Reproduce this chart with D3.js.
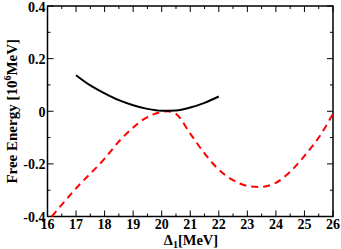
<!DOCTYPE html>
<html>
<head>
<meta charset="utf-8">
<script src="https://cdn.jsdelivr.net/npm/d3@7"></script>
<style>
  body { margin: 0; background: #fff; }
  text { font-family: "Liberation Serif", "Times New Roman", serif; font-weight: bold; }
</style>
</head>
<body>
<svg id="chart" width="341" height="249"></svg>
<script>
const xTicks = [16, 17, 18, 19, 20, 21, 22, 23, 24, 25, 26];
const yTicks = [-0.4, -0.2, 0, 0.2, 0.4];

// black solid curve
const solidX = [17, 17.5, 18, 18.5, 19, 19.5, 20, 20.5, 21, 21.5, 22];
const solidY = [0.137, 0.098, 0.068, 0.042, 0.023, 0.009, 0.002, 0.003, 0.014, 0.032, 0.056];

// red dashed curve
const dashX = [16.15, 17, 18, 18.5, 19, 19.5, 20, 20.2, 20.5, 21, 21.5, 22, 22.5, 23, 23.4, 24, 24.5, 25, 25.5, 26];
const dashY = [-0.4, -0.293, -0.18, -0.115, -0.062, -0.022, -0.003, 0, -0.01, -0.085, -0.16, -0.222, -0.262, -0.284, -0.288, -0.272, -0.23, -0.17, -0.1, -0.01];

const m = { left: 47.5, right: 333, top: 6, bottom: 216.5 };
const svg = d3.select('#chart');

const x = d3.scaleLinear().domain([16, 26]).range([m.left, m.right]);
const y = d3.scaleLinear().domain([-0.4, 0.4]).range([m.bottom, m.top]);

const xMinor = d3.range(16, 26.01, 0.5);
const yMinor = d3.range(-0.4, 0.401, 0.1);

// ticks pointing inward on all four sides
const g = svg.append('g').attr('stroke', '#000').attr('stroke-width', 1);
xMinor.forEach(v => {
  const len = Math.abs(v - Math.round(v)) < 1e-6 ? 6 : 3;
  g.append('line').attr('x1', x(v)).attr('x2', x(v)).attr('y1', m.bottom).attr('y2', m.bottom - len);
  g.append('line').attr('x1', x(v)).attr('x2', x(v)).attr('y1', m.top).attr('y2', m.top + len);
});
yMinor.forEach(v => {
  const major = Math.abs(v * 5 - Math.round(v * 5)) < 1e-6;
  const len = major ? 6 : 3;
  g.append('line').attr('x1', m.left).attr('x2', m.left + len).attr('y1', y(v)).attr('y2', y(v));
  g.append('line').attr('x1', m.right).attr('x2', m.right - len).attr('y1', y(v)).attr('y2', y(v));
});

svg.append('rect')
  .attr('x', m.left).attr('y', m.top)
  .attr('width', m.right - m.left).attr('height', m.bottom - m.top)
  .attr('fill', 'none').attr('stroke', '#000').attr('stroke-width', 1.5);

svg.selectAll('.xl').data(xTicks).enter().append('text')
  .attr('x', d => x(d)).attr('y', 229)
  .attr('text-anchor', 'middle').attr('font-size', 14)
  .text(d => d);

svg.selectAll('.yl').data(yTicks).enter().append('text')
  .attr('x', 45.5).attr('y', d => y(d) + 5.5)
  .attr('text-anchor', 'end').attr('font-size', 14)
  .text(d => d === 0 ? '0' : d);

const line = d3.line().x(d => x(d[0])).y(d => y(d[1])).curve(d3.curveMonotoneX);

svg.append('path')
  .datum(dashX.map((v, i) => [v, dashY[i]]))
  .attr('d', line)
  .attr('fill', 'none').attr('stroke', '#ff0000').attr('stroke-width', 2)
  .attr('stroke-dasharray', '7,5');

svg.append('path')
  .datum(solidX.map((v, i) => [v, solidY[i]]))
  .attr('d', line)
  .attr('fill', 'none').attr('stroke', '#000').attr('stroke-width', 2);

// axis titles
const xt = svg.append('text').attr('x', 191).attr('y', 245)
  .attr('text-anchor', 'middle').attr('font-size', 14.5);
xt.append('tspan').text('Δ');
xt.append('tspan').attr('font-size', 10).attr('dy', 3).text('1');
xt.append('tspan').attr('dy', -3).text('[MeV]');

const yt = svg.append('text')
  .attr('transform', `translate(17,${(m.top + m.bottom) / 2}) rotate(-90)`)
  .attr('text-anchor', 'middle').attr('font-size', 15);
yt.append('tspan').text('Free Energy [10');
yt.append('tspan').attr('font-size', 10).attr('dy', -6).text('6');
yt.append('tspan').attr('dy', 6).text('MeV]');
</script>
</body>
</html>
